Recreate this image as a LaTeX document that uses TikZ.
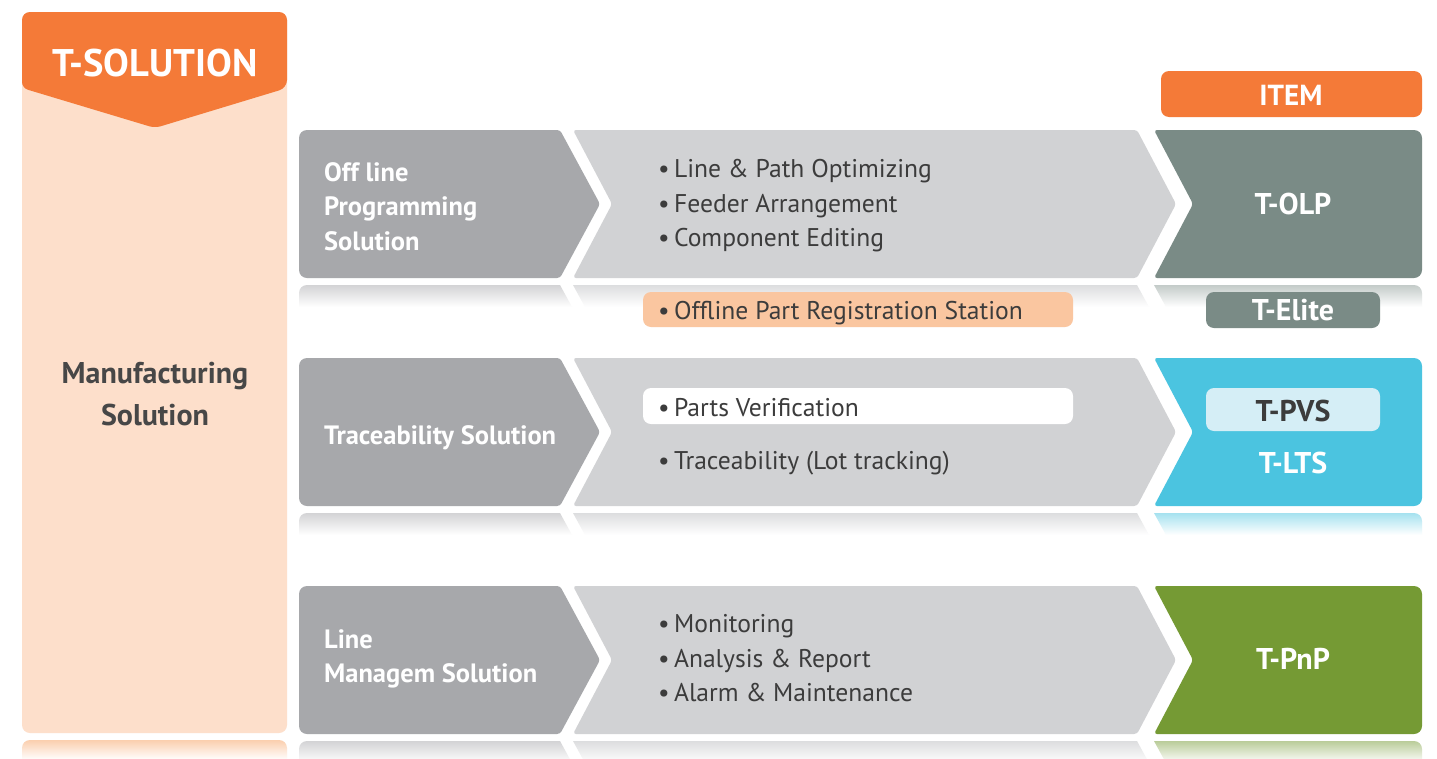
\documentclass[tikz,border=0pt]{standalone}
\usepackage{fontspec}
\setmainfont{PT Sans}
\definecolor{corange}{HTML}{F47A38}
\definecolor{cpeach}{HTML}{FDDFCB}
\definecolor{cpale}{HTML}{FAC6A0}
\definecolor{cdark}{HTML}{A7A8AB}
\definecolor{clight}{HTML}{D1D2D4}
\definecolor{colp}{HTML}{7A8B86}
\definecolor{cblue}{HTML}{4BC4E0}
\definecolor{cpvs}{HTML}{D5EEF6}
\definecolor{cgreen}{HTML}{759A34}
\definecolor{ctext}{HTML}{3C3C3C}
\definecolor{cmfg}{HTML}{474747}
\newcommand\solrow[3]{%
  \pgfmathsetmacro\rB{#1+148}%
  \pgfmathsetmacro\rM{#1+74}%
  \pgfmathsetmacro\rE{#1+155}%
  \pgfmathsetmacro\rF{#1+177}%
  \fill[cdark] (430,#1) [rounded corners=8] -- (299,#1) -- (299,\rB) [rounded corners=3] -- (560,\rB) -- (600,\rM) -- (560,#1) -- cycle;
  \fill[clight, rounded corners=3] (573,#1) -- (1137,#1) -- (1176,\rM) -- (1137,\rB) -- (573,\rB) -- (612,\rM) -- cycle;
  \fill[#2] (1300,#1) [rounded corners=8] -- (1422,#1) -- (1422,\rB) [rounded corners=3] -- (1154,\rB) -- (1193,\rM) -- (1154,#1) -- cycle;
  \shade[top color=cdark!50, bottom color=white] (430,\rE) [rounded corners=8] -- (299,\rE) [sharp corners] -- (299,\rF) -- (572,\rF) -- (560,\rE) -- cycle;
  \shade[top color=clight!75, bottom color=white] (573,\rE) -- (1137,\rE) -- (1149,\rF) -- (585,\rF) -- cycle;
  \shade[top color=#3, bottom color=white] (1300,\rE) [rounded corners=8] -- (1422,\rE) [sharp corners] -- (1422,\rF) -- (1166,\rF) -- (1154,\rE) -- cycle;
}
\tikzset{
  whitelbl/.style={anchor=base west, text=white, font=\bfseries\fontsize{26.5}{30}\selectfont, inner sep=0pt},
  bullet/.style={anchor=base west, text=ctext, font=\fontsize{25.6}{30}\selectfont, inner sep=0pt},
  itemlbl/.style={anchor=base, text=white, font=\bfseries\fontsize{30}{34}\selectfont, inner sep=0pt},
  pillbox/.style={rounded corners=8}
}
\begin{document}
\begin{tikzpicture}[x=1pt,y=-1pt]
\useasboundingbox (0,0) rectangle (1437,758);
\fill[white] (0,0) rectangle (1437,758);
% left column
\fill[cpeach, rounded corners=8] (22,12) rectangle (287,733);
\fill[corange] (155,12) [rounded corners=8] -- (287,12) -- (287,88) [rounded corners=6] -- (155,128) -- (22,88) [rounded corners=8] -- (22,12) -- cycle;
\shade[top color=cpale!85, bottom color=white] (155,740) [rounded corners=8] -- (287,740) [sharp corners] -- (287,760) -- (22,760) [rounded corners=8] -- (22,740) -- cycle;
\node[anchor=base, text=white, font=\bfseries\fontsize{38.5}{44}\selectfont, inner sep=0pt] (tsol) at (155,76) {T-SOLUTION};
\node[anchor=base, text=cmfg, font=\bfseries\fontsize{30}{34}\selectfont, inner sep=0pt] (mfg1) at (155,383) {Manufacturing};
\node[anchor=base, text=cmfg, font=\bfseries\fontsize{30}{34}\selectfont, inner sep=0pt] (mfg2) at (155,425) {Solution};
% ITEM
\fill[corange, pillbox] (1161,71) rectangle (1422,117);
\node[anchor=base, text=white, font=\bfseries\fontsize{29}{33}\selectfont, inner sep=0pt] (item) at (1291,105) {ITEM};
% rows
\solrow{130}{colp}{colp!45}
\solrow{358}{cblue}{cblue!50}
\solrow{586}{cgreen}{cgreen!50}
% row 1 texts
\node[whitelbl] (r1a) at (324,181) {Off line};
\node[whitelbl] (r1b) at (324,215.5) {Programming};
\node[whitelbl] (r1c) at (324,250) {Solution};
\node[bullet] (b11) at (658,177) {•\,Line \& Path Optimizing};
\node[bullet] (b12) at (658,212) {•\,Feeder Arrangement};
\node[bullet] (b13) at (658,246) {•\,Component Editing};
\node[itemlbl] (tolp) at (1293,214) {T-OLP};
% between rows 1 and 2
\fill[cpale, pillbox] (643,292) rectangle (1073,327);
\node[bullet] (b14) at (658,319) {•\,Offline Part Registration Station};
\fill[colp, pillbox] (1206,292) rectangle (1380,328);
\node[itemlbl] (telite) at (1293,320) {T-Elite};
% row 2 texts
\node[whitelbl] (r2a) at (324,444) {Traceability Solution};
\fill[white, pillbox] (643,388) rectangle (1073,424);
\node[bullet] (b21) at (658,416) {•\,Parts Verification};
\node[bullet] (b22) at (658,469) {•\,Traceability (Lot tracking)};
\fill[cpvs, pillbox] (1206,388) rectangle (1380,431);
\node[itemlbl, text=ctext] (tpvs) at (1293,421) {T-PVS};
\node[itemlbl] (tlts) at (1293,473) {T-LTS};
% row 3 texts
\node[whitelbl] (r3a) at (324,648) {Line};
\node[whitelbl] (r3b) at (324,682) {Managem Solution};
\node[bullet] (b31) at (658,632) {•\,Monitoring};
\node[bullet] (b32) at (658,667) {•\,Analysis \& Report};
\node[bullet] (b33) at (658,701) {•\,Alarm \& Maintenance};
\node[itemlbl] (tpnp) at (1293,669) {T-PnP};
\end{tikzpicture}
\end{document}
